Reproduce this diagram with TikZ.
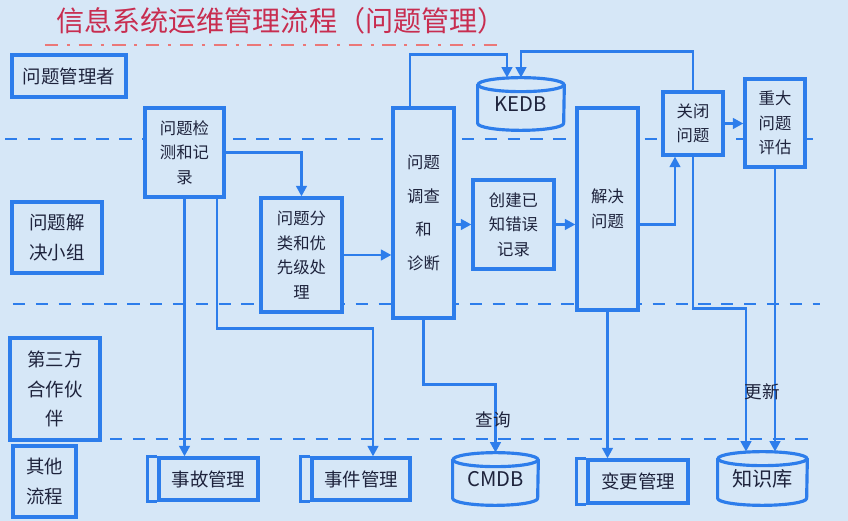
\documentclass[tikz,border=0pt]{standalone}
\usepackage{fontspec}
\setmainfont{Noto Sans CJK SC}
\usetikzlibrary{arrows.meta}
\definecolor{bgblue}{RGB}{214,231,247}
\definecolor{lineblue}{RGB}{45,125,235}
\definecolor{inkdark}{RGB}{30,35,60}
\definecolor{titlered}{RGB}{200,45,80}
\definecolor{dashred}{RGB}{235,120,120}
% 数据库圆柱：#1 节点名，#2 横向半径
\newcommand{\dbdraw}[2]{%
  \draw[lineblue, line width=1.8pt] ([yshift=-0.14cm]#1.north) ellipse [x radius=#2, y radius=0.14cm];
  \draw[lineblue, line width=1.8pt] ([yshift=-0.14cm]#1.north west) -- ([yshift=0.14cm]#1.south west)
    arc[start angle=180, end angle=360, x radius=#2, y radius=0.14cm] -- ([yshift=-0.14cm]#1.north east);
}
\begin{document}
\begin{tikzpicture}[
    box/.style={draw=lineblue, line width=1.8pt, fill=bgblue, text=inkdark, align=center,
      inner sep=0pt, font=\fontsize{9.3}{14}\selectfont},
    lane/.style={box, font=\fontsize{10.5}{17}\selectfont},
    proc/.style={box, font=\fontsize{10.5}{12}\selectfont},
    dbase/.style={text=inkdark, inner sep=0pt, font=\fontsize{11.5}{12}\selectfont},
    flow/.style={draw=lineblue, line width=1.6pt, -{Triangle[length=6pt,width=6pt]}},
    swim/.style={draw=lineblue, line width=1.5pt, dash pattern=on 7pt off 6pt},
    note/.style={text=inkdark, font=\fontsize{10}{12}\selectfont},
  ]
  % 背景与边界
  \fill[bgblue] (0,0) rectangle (16.96,10.42);
  \useasboundingbox (0,0) rectangle (16.96,10.42);

  % 标题
  \node[text=titlered, font=\fontsize{16}{18}\selectfont] (title) at (5.62,10.0) {信息系统运维管理流程（问题管理）};
  \draw[dashred, line width=1.5pt, dash pattern=on 7.5pt off 5pt on 1.7pt off 5pt] (0.90,9.52) -- (10.00,9.52);

  % 泳道分隔线
  \draw[swim] (0.10,7.64) -- (16.26,7.64);
  \draw[swim] (0.26,4.34) -- (16.40,4.34);
  \draw[swim] (2.20,1.64) -- (16.16,1.64);

  % 泳道角色
  \node[lane, minimum width=2.28cm, minimum height=0.84cm] (mgr) at (1.38,8.90) {问题管理者};
  \node[lane, minimum width=1.80cm, minimum height=1.42cm] (team) at (1.14,5.67) {问题解\\决小组};
  \node[lane, minimum width=1.80cm, minimum height=2.04cm] (partner) at (1.10,2.64) {第三方\\合作伙\\伴};
  \node[lane, minimum width=1.26cm, minimum height=1.42cm] (others) at (0.89,0.79) {其他\\流程};

  % 主流程
  \node[box, minimum width=1.58cm, minimum height=1.78cm] (detect) at (3.69,7.37) {问题检\\测和记\\录};
  \node[box, minimum width=1.62cm, minimum height=2.28cm] (classify) at (6.03,5.32) {问题分\\类和优\\先级处\\理};
  \node[box, minimum width=1.22cm, minimum height=4.20cm, font=\fontsize{9.3}{19}\selectfont] (investigate) at (8.47,6.16) {问题\\调查\\和\\诊断};
  \node[box, minimum width=1.62cm, minimum height=1.78cm] (kerecord) at (10.27,5.93) {创建已\\知错误\\记录};
  \node[box, minimum width=1.22cm, minimum height=4.04cm] (resolve) at (12.15,6.24) {解决\\问题};
  \node[box, minimum width=1.20cm, minimum height=1.26cm] (close) at (13.86,7.95) {关闭\\问题};
  \node[box, minimum width=1.20cm, minimum height=1.76cm] (major) at (15.50,7.96) {重大\\问题\\评估};

  % 数据库
  \node[dbase, minimum width=1.72cm, minimum height=1.04cm] (kedb) at (10.42,8.34) {KEDB};
  \dbdraw{kedb}{0.86cm}
  \node[dbase, minimum width=1.70cm, minimum height=1.04cm] (cmdb) at (9.91,0.84) {CMDB};
  \dbdraw{cmdb}{0.85cm}
  \node[dbase, minimum width=1.78cm, minimum height=1.06cm] (kb) at (15.25,0.85) {知识库};
  \dbdraw{kb}{0.89cm}

  % 其他流程（左侧双竖线）
  \node[proc, minimum width=1.98cm, minimum height=0.84cm] (incident) at (4.17,0.84) {事故管理};
  \draw[lineblue, line width=1.8pt] (incident.north west) -- ++(-0.20,0) |- (incident.south west);
  \node[proc, minimum width=1.96cm, minimum height=0.84cm] (event) at (7.22,0.84) {事件管理};
  \draw[lineblue, line width=1.8pt] (event.north west) -- ++(-0.20,0) |- (event.south west);
  \node[proc, minimum width=2.00cm, minimum height=0.86cm] (change) at (12.76,0.79) {变更管理};
  \draw[lineblue, line width=1.8pt] (change.north west) -- ++(-0.20,0) |- (change.south west);

  % 连线
  \draw[flow] (detect.east) -| (classify.north);
  \draw[flow] (detect.south) -- (detect.south |- incident.north);
  \draw[flow] ([xshift=0.65cm]detect.south) -- ++(0,-2.60) -| ([xshift=0.24cm]event.north);
  \draw[flow] (classify.east) -- (classify.east -| investigate.west);
  \draw[flow] (kerecord.west -| investigate.east) -- (kerecord.west);
  \draw[flow] (kerecord.east) -- (kerecord.east -| resolve.west);
  \draw[flow] ([xshift=-0.27cm]investigate.north) -- ++(0,1.04) -| ([xshift=-0.28cm]kedb.north);
  \draw[flow] (close.north) -- ++(0,0.78) -| (kedb.north);
  \draw[flow] (kerecord.east -| resolve.east) -| ([xshift=-0.36cm]close.south);
  \draw[flow] (close.east) -- (close.east -| major.west);
  \draw[flow] (close.south) -- ++(0,-3.04) -| ([xshift=-0.33cm]kb.north);
  \draw[flow] (major.south) -- (major.south |- kb.north);
  \draw[flow] (investigate.south) -- ++(0,-1.30) -| (cmdb.north);
  \draw[flow] (resolve.south) -- (resolve.south |- change.north);

  % 连线标注
  \node[note] (query) at (9.86,2.02) {查询};
  \node[note] (update) at (15.24,2.58) {更新};
\end{tikzpicture}
\end{document}
